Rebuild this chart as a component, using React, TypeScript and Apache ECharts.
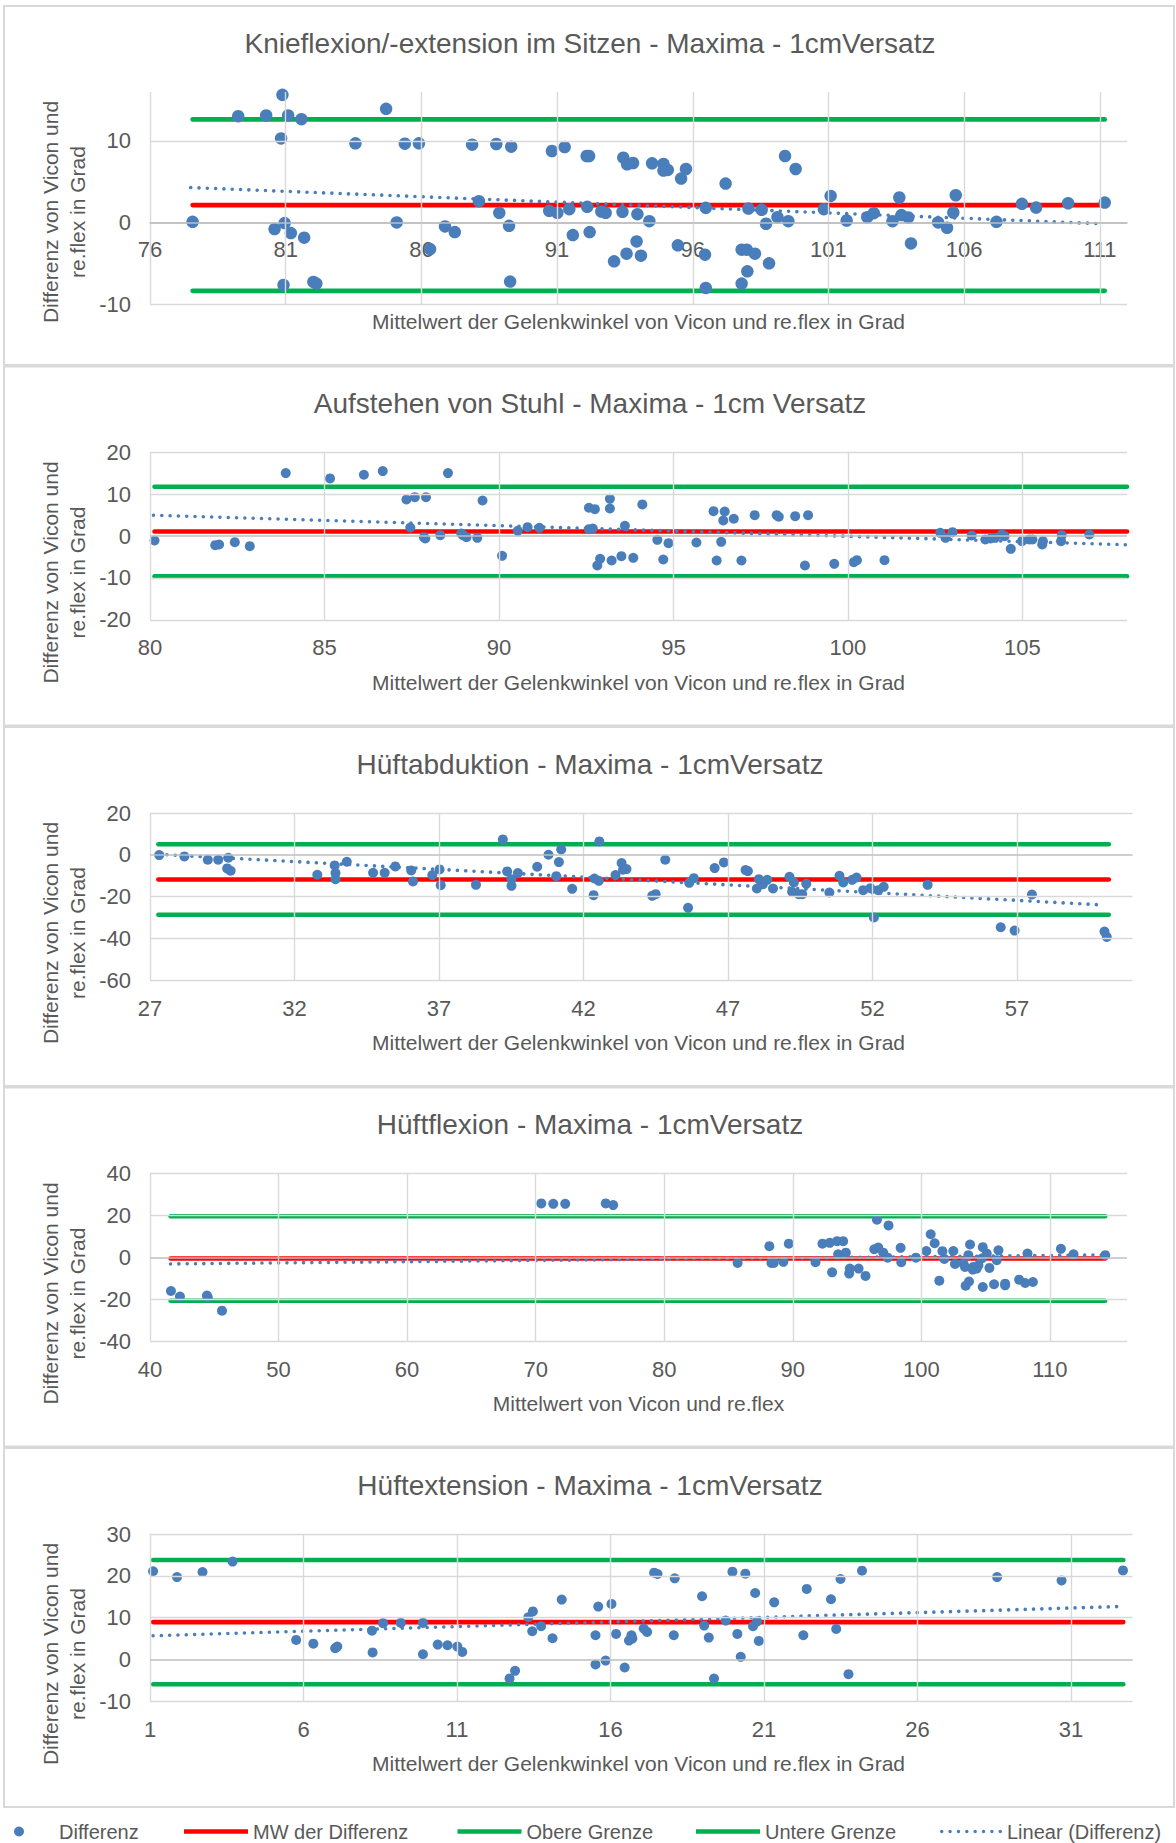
import React, { useEffect, useRef } from "react";
import * as echarts from "echarts";

// ---------- Texts ----------
const panelTitles = [
  "Knieflexion/-extension im Sitzen - Maxima - 1cmVersatz",
  "Aufstehen von Stuhl - Maxima - 1cm Versatz",
  "Hüftabduktion - Maxima - 1cmVersatz",
  "Hüftflexion - Maxima - 1cmVersatz",
  "Hüftextension - Maxima - 1cmVersatz",
];
const xAxisTitles = [
  "Mittelwert der Gelenkwinkel von Vicon und re.flex in Grad",
  "Mittelwert der Gelenkwinkel von Vicon und re.flex in Grad",
  "Mittelwert der Gelenkwinkel von Vicon und re.flex in Grad",
  "Mittelwert von Vicon und re.flex",
  "Mittelwert der Gelenkwinkel von Vicon und re.flex in Grad",
];
const yAxisTitle = "Differenz von Vicon und\nre.flex in Grad";
const seriesNames = ["Differenz", "MW der Differenz", "Obere Grenze", "Untere Grenze", "Linear (Differenz)"];

// ---------- Knieflexion/-extension im Sitzen ----------
const kniePoints: number[][] = [
  [77.57, 0.08], [79.25, 13.04], [80.28, 13.12], [80.88, 15.65], [81.09, 13.12], [81.58, 12.67],
  [80.83, 10.31], [83.57, 9.7], [84.7, 13.94], [85.39, 9.66], [85.91, 9.7], [87.87, 9.54],
  [88.76, 9.62], [89.31, 9.29], [90.81, 8.76], [91.28, 9.25], [92.09, 8.15], [92.18, 8.15],
  [93.44, 7.95], [93.58, 7.13], [93.8, 7.29], [94.5, 7.25], [94.92, 7.17], [94.92, 6.36],
  [95.08, 6.44], [95.57, 5.38], [95.75, 6.56], [97.21, 4.77], [99.4, 8.15], [99.79, 6.56],
  [101.08, 3.26], [103.61, 3.06], [105.69, 3.34],
  [88.12, 2.61], [88.87, 1.18], [90.71, 1.43], [91.01, 1.18], [91.45, 1.63], [92.11, 1.92],
  [92.63, 1.34], [92.79, 1.18], [93.41, 1.3], [93.96, 1.02], [94.4, 0.16], [96.48, 1.79],
  [98.05, 1.71], [98.54, 1.55], [98.7, -0.16], [99.12, 0.65], [99.52, 0.16], [100.83, 1.63],
  [101.67, 0.24], [102.43, 0.65], [102.67, 1.14], [103.36, 0.16], [103.69, 0.9], [103.94, 0.61],
  [105.04, 0.0], [105.37, -0.65], [105.6, 1.22], [107.19, 0.08], [108.13, 2.28], [108.65, 1.83],
  [109.83, 2.36], [111.18, 2.44],
  [85.09, 0.0], [80.59, -0.81], [80.96, -0.08], [81.19, -1.3], [81.68, -1.87], [86.87, -0.49],
  [87.23, -1.18], [89.23, -0.41], [86.32, -3.26], [91.58, -1.55], [92.2, -1.18], [93.1, -4.77],
  [93.56, -3.83], [93.93, -2.32], [94.09, -4.07], [95.45, -2.81], [96.45, -3.95], [97.8, -3.34],
  [97.99, -3.34], [98.29, -3.83], [98.81, -5.01], [98.01, -5.99], [97.8, -7.5], [96.48, -8.03],
  [104.04, -2.57], [80.92, -7.66], [82.02, -7.29], [82.13, -7.5], [89.27, -7.25],
];
const knieLimits = [2.13, 12.64, -8.39]; // mean, upper, lower
const knieSpan = [77.57, 111.18];
const knieTrend = [[77.5, 4.28], [111.1, -0.16]];
const knieXTicks = [76, 81, 86, 91, 96, 101, 106, 111];
const knieYTicks = [-10, 0, 10];

// ---------- Aufstehen von Stuhl ----------
const stuhlPoints: number[][] = [
  [80.13, -1.04], [81.87, -2.15], [81.98, -1.99], [82.43, -1.44], [82.86, -2.39], [83.89, 15.07],
  [85.16, 13.8], [86.13, 14.67], [86.67, 15.55], [88.54, 15.07], [87.35, 8.77], [87.59, 9.33],
  [87.91, 9.33], [89.53, 8.53], [87.46, 2.07], [87.85, -0.24], [87.89, -0.56], [88.32, 0.24],
  [88.92, 0.64], [88.97, 0.24], [89.07, -0.24], [89.38, -0.4], [90.09, -4.7], [90.54, 1.28],
  [90.82, 2.15], [91.16, 1.99], [92.58, 6.78], [92.75, 6.46], [93.18, 8.93], [93.18, 6.62],
  [92.58, 1.67], [92.69, 1.83], [93.61, 2.47], [94.11, 7.58], [92.82, -7.02], [92.9, -5.42],
  [93.23, -5.82], [93.51, -4.78], [93.85, -5.18], [94.54, -0.88], [94.86, -1.67], [94.71, -5.58],
  [95.66, -1.52], [96.15, 5.98], [96.47, 5.9], [96.43, 3.75], [96.73, 4.15], [96.37, -1.36],
  [96.24, -5.82], [96.95, -5.82], [97.33, 5.02], [97.96, 5.02], [98.02, 4.63], [98.49, 4.78],
  [98.86, 5.02], [98.77, -7.02], [99.61, -6.62], [100.17, -6.22], [100.26, -5.74], [101.05, -5.74],
  [102.65, 0.8], [102.8, -0.4], [103.0, 0.96], [103.55, 0.16], [103.94, -0.8], [104.09, -0.56],
  [104.22, -0.4], [104.41, 0.4], [104.49, 0.0], [104.67, -3.03], [104.99, -1.2], [105.2, -0.8],
  [105.29, -0.8], [105.59, -1.2], [105.57, -2.0], [106.11, -1.2], [106.13, 0.24], [106.92, 0.4],
];
const stuhlLimits = [1.12, 11.82, -9.58];
const stuhlSpan = [80.13, 108];
const stuhlTrend = [[80.1, 5.0], [108, -2.06]];
const stuhlXTicks = [80, 85, 90, 95, 100, 105];
const stuhlYTicks = [-20, -10, 0, 10, 20];

// ---------- Hüftabduktion ----------
const abduktionPoints: number[][] = [
  [27.32, -0.16], [28.19, -0.8], [29.0, -2.4], [29.36, -2.4], [29.71, -1.44], [29.67, -6.56],
  [29.79, -7.68], [32.79, -9.6], [33.39, -5.12], [33.42, -8.8], [33.42, -11.68], [33.81, -3.36],
  [34.72, -8.64], [35.12, -8.64], [35.49, -5.6], [36.04, -7.52], [36.1, -12.8], [36.77, -9.76],
  [37.02, -7.04], [37.06, -14.56], [38.28, -14.4], [39.21, 7.36], [39.36, -8.0], [39.51, -11.68],
  [39.51, -14.88], [39.73, -8.8], [40.4, -5.76], [40.79, 0.0], [41.06, -10.24], [41.15, -3.52],
  [41.23, 2.56], [41.61, -16.32], [42.35, -19.36], [42.38, -11.36], [42.55, 6.4], [42.53, -12.48],
  [43.11, -9.76], [43.32, -4.0], [43.37, -7.2], [43.49, -6.88], [44.38, -19.68], [44.5, -18.88],
  [44.83, -2.4], [45.62, -25.44], [45.66, -13.44], [45.82, -11.2], [46.54, -6.4], [46.86, -3.68],
  [47.61, -7.36], [47.69, -7.84], [48.0, -16.16], [48.07, -11.68], [48.21, -14.08], [48.36, -12.0],
  [48.56, -16.16], [49.13, -10.56], [49.28, -13.28], [49.22, -17.76], [49.45, -18.88], [49.57, -18.88],
  [49.71, -13.92], [50.51, -18.08], [50.86, -10.08], [50.99, -13.28], [51.3, -12.0], [51.45, -10.88],
  [51.68, -16.96], [51.93, -16.0], [52.05, -30.08], [52.2, -16.96], [52.39, -15.36], [53.91, -14.4],
  [56.44, -34.72], [56.92, -36.32], [57.52, -19.04], [60.03, -36.8], [60.11, -39.36],
];
const abduktionLimits = [-11.84, 5.06, -28.74];
const abduktionSpan = [27.29, 60.18];
const abduktionTrend = [[27.3, 0.2], [59.9, -24.0]];
const abduktionXTicks = [27, 32, 37, 42, 47, 52, 57];
const abduktionYTicks = [-60, -40, -20, 0, 20];

// ---------- Hüftflexion ----------
const flexionPoints: number[][] = [
  [41.63, -16.1], [42.33, -18.8], [44.43, -18.3], [44.49, -19.1], [45.6, -25.5], [70.44, 25.7],
  [71.37, 25.5], [72.3, 25.5], [75.45, 25.7], [76.03, 24.9],
  [85.71, -2.7], [88.18, 5.3], [88.34, -2.7], [88.52, -2.7], [89.27, -2.2], [89.69, 6.5],
  [91.77, -2.4], [92.31, 6.5], [92.88, 6.9], [93.45, 7.7], [93.92, 7.7], [93.53, 1.4],
  [94.13, 2.2], [93.06, -7.2], [94.39, -7.8], [94.44, -5.4], [95.12, -5.4], [95.66, -8.9],
  [96.55, 17.9], [97.45, 15.2], [96.34, 3.8], [96.65, 4.6], [97.04, 2.2], [97.38, -0.2],
  [98.39, 4.5], [98.44, -2.4], [99.58, -0.2], [100.39, 3.0], [100.73, 11.0], [101.04, 6.7],
  [101.4, -11.2], [101.64, 2.9], [101.79, -0.8], [102.49, 3.0], [102.62, -3.2], [103.27, -3.0],
  [103.4, -4.6], [103.45, -13.6], [103.71, -11.6], [103.79, 6.1], [103.66, 1.0], [104.0, -5.9],
  [104.05, -4.6], [104.31, -5.4], [104.44, -3.8], [104.7, -0.6], [104.78, 4.8], [105.09, 1.8],
  [104.78, -14.2], [105.3, -5.1], [105.66, -12.9], [105.87, -1.4], [106.0, 3.3], [106.52, -12.6],
  [106.52, -13.4], [107.61, -10.7], [108.08, -12.3], [108.68, -11.8], [108.26, 1.8], [110.86, 4.0],
  [111.84, 1.4], [114.31, 1.0],
];
const flexionLimits = [-0.6, 19.6, -20.8];
const flexionSpan = [41.6, 114.3];
const flexionTrend = [[41.6, -3.2], [114.3, 1.1]];
const flexionXTicks = [40, 50, 60, 70, 80, 90, 100, 110];
const flexionYTicks = [-40, -20, 0, 20, 40];

// ---------- Hüftextension ----------
const extensionPoints: number[][] = [
  [1.1, 21.1], [1.88, 19.7], [2.71, 20.9], [3.69, 23.4], [5.76, 4.7], [6.32, 3.8],
  [7.03, 2.7], [7.1, 3.1], [8.23, 6.9], [8.25, 1.7], [8.59, 8.7],
  [9.17, 8.75], [9.89, 8.75], [9.89, 1.27], [10.37, 3.58], [10.69, 3.42], [11.01, 3.1],
  [11.17, 1.83], [12.71, -4.53], [12.89, -2.7], [13.32, 10.1], [13.47, 11.5], [13.45, 6.76],
  [13.74, 7.96], [14.11, 5.09], [14.41, 14.32], [15.51, 5.81], [15.51, -1.19], [15.6, 12.65],
  [15.84, -0.24], [16.03, 13.29], [16.18, 6.13], [16.46, -1.91], [16.6, 4.53], [16.68, 5.81],
  [16.71, 5.01], [17.08, 7.4], [17.19, 6.6], [17.42, 20.76], [17.53, 20.45], [18.06, 5.81],
  [18.09, 19.41], [18.98, 15.12], [19.05, 8.11], [19.2, 5.25], [19.37, -4.53], [19.75, 9.31],
  [19.97, 21.0], [20.13, 6.13], [20.24, 0.64], [20.39, 20.52], [20.64, 7.96], [20.71, 15.91],
  [20.77, 9.07], [20.83, 4.45], [21.33, 13.68], [22.28, 5.81], [22.39, 16.87], [23.18, 14.4],
  [23.35, 7.32], [23.49, 19.25], [23.75, -3.5], [24.19, 21.24], [28.59, 19.7], [30.69, 18.9],
  [32.69, 21.3],
];
const extensionLimits = [8.95, 23.8, -5.9];
const extensionSpan = [1.1, 32.7];
const extensionTrend = [[1.1, 5.67], [32.7, 12.7]];
const extensionXTicks = [1, 6, 11, 16, 21, 26, 31];
const extensionYTicks = [-10, 0, 10, 20, 30];

// ---------- Styling ----------
const FONT = "'Liberation Sans', Arial, Helvetica, sans-serif";
const TEXT_COLOR = "#595959";
const DOT_BLUE = "#4a7ebb";
const RED = "#ff0000";
const GREEN = "#00b050";
const GRID_GRAY = "#d9d9d9";
const AXIS_GRAY = "#bfbfbf";

const PANEL_TOP = 6;
const PANEL_STEP = 360.5;
const GRID_LEFT = 150;
const LEGEND_TOP = 1821.5;

// legend icons: a thick bar and a row of round dots
const LINE_ICON = "path://M0,0H64V4.5H0Z";
const DOT_ICON =
  "path://" +
  Array.from({ length: 8 }, (_, k) => {
    const x = k * 8.2;
    return `M${x},1.7a1.7,1.7 0 1,0 3.4,0a1.7,1.7 0 1,0 -3.4,0Z`;
  }).join("");

type Panel = {
  points: number[][];
  limits: number[];
  span: number[];
  trend: number[][];
  xTicks: number[];
  xMax: number;
  yTicks: number[];
  yMax: number;
  labelsAtZero: boolean;
  dot: number;
  right: number;
  height: number;
};

const panels: Panel[] = [
  { points: kniePoints, limits: knieLimits, span: knieSpan, trend: knieTrend, xTicks: knieXTicks, xMax: 112, yTicks: knieYTicks, yMax: 16, labelsAtZero: true, dot: 12.5, right: 1127, height: 212 },
  { points: stuhlPoints, limits: stuhlLimits, span: stuhlSpan, trend: stuhlTrend, xTicks: stuhlXTicks, xMax: 108, yTicks: stuhlYTicks, yMax: 20, labelsAtZero: false, dot: 10, right: 1127, height: 167.3 },
  { points: abduktionPoints, limits: abduktionLimits, span: abduktionSpan, trend: abduktionTrend, xTicks: abduktionXTicks, xMax: 61, yTicks: abduktionYTicks, yMax: 20, labelsAtZero: false, dot: 10, right: 1132.5, height: 167 },
  { points: flexionPoints, limits: flexionLimits, span: flexionSpan, trend: flexionTrend, xTicks: flexionXTicks, xMax: 116, yTicks: flexionYTicks, yMax: 40, labelsAtZero: false, dot: 10, right: 1127, height: 167.5 },
  { points: extensionPoints, limits: extensionLimits, span: extensionSpan, trend: extensionTrend, xTicks: extensionXTicks, xMax: 33, yTicks: extensionYTicks, yMax: 30, labelsAtZero: false, dot: 10, right: 1132.5, height: 167.4 },
];

// one legend block per entry, each placed on its own
const legendEntries = [
  { name: seriesNames[0], icon: "circle", left: 14, itemWidth: 10, textPad: 30 },
  { name: seriesNames[1], icon: LINE_ICON, left: 184, itemWidth: 64, textPad: 0 },
  { name: seriesNames[2], icon: LINE_ICON, left: 457.5, itemWidth: 64, textPad: 0 },
  { name: seriesNames[3], icon: LINE_ICON, left: 696, itemWidth: 64, textPad: 0 },
  { name: seriesNames[4], icon: DOT_ICON, left: 940, itemWidth: 62, textPad: 0 },
];

function buildOption() {
  const grids: any[] = [];
  const xAxes: any[] = [];
  const yAxes: any[] = [];
  const series: any[] = [];
  const titles: any[] = [];
  const graphics: any[] = [];

  panels.forEach((p, i) => {
    const top = PANEL_TOP + i * PANEL_STEP;
    const yMin = p.yTicks[0];
    // distance from the grid bottom up to the value 0 on the y scale
    const zeroLift = (p.height * (0 - yMin)) / (p.yMax - yMin);

    graphics.push({
      type: "rect",
      z: -1,
      silent: true,
      shape: { x: 4, y: top, width: 1170, height: 359 },
      style: { fill: "#ffffff", stroke: GRID_GRAY, lineWidth: 2 },
    });
    graphics.push({
      type: "text",
      silent: true,
      x: 63.5,
      y: top + 206,
      rotation: Math.PI / 2,
      style: {
        text: yAxisTitle,
        fill: TEXT_COLOR,
        fontSize: 21,
        fontFamily: FONT,
        lineHeight: 27,
        align: "center",
        verticalAlign: "middle",
        textAlign: "center",
        textVerticalAlign: "middle",
      },
    });
    graphics.push({
      type: "text",
      silent: true,
      x: 638.5,
      y: top + 315.7,
      style: {
        text: xAxisTitles[i],
        fill: TEXT_COLOR,
        fontSize: 21,
        fontFamily: FONT,
        align: "center",
        verticalAlign: "middle",
        textAlign: "center",
        textVerticalAlign: "middle",
      },
    });

    titles.push({
      text: panelTitles[i],
      left: 590,
      textAlign: "center",
      top: top + 23,
      padding: 0,
      textStyle: { fontSize: 28, fontWeight: "normal", color: TEXT_COLOR, fontFamily: FONT },
    });

    grids.push({
      left: GRID_LEFT,
      top: top + 86,
      width: p.right - GRID_LEFT,
      height: p.height,
      containLabel: false,
    });

    xAxes.push({
      type: "value",
      gridIndex: i,
      position: "bottom",
      offset: p.labelsAtZero ? -zeroLift : 0,
      min: p.xTicks[0],
      max: p.xMax,
      interval: p.xTicks[1] - p.xTicks[0],
      axisLine: { show: p.labelsAtZero, onZero: false, lineStyle: { color: AXIS_GRAY, width: 1.6 } },
      axisTick: { show: false },
      splitLine: { show: false },
      axisLabel: {
        fontSize: 22,
        color: TEXT_COLOR,
        fontFamily: FONT,
        margin: p.labelsAtZero ? 16 : 17,
        showMaxLabel: false,
        showMinLabel: true,
      },
    });

    yAxes.push({
      type: "value",
      gridIndex: i,
      min: yMin,
      max: p.yMax,
      interval: p.yTicks[1] - p.yTicks[0],
      axisLine: { show: false, onZero: false },
      axisTick: { show: false },
      splitLine: { show: false },
      axisLabel: {
        fontSize: 22,
        color: TEXT_COLOR,
        fontFamily: FONT,
        margin: 19,
        showMaxLabel: p.yTicks.includes(p.yMax),
        showMinLabel: true,
      },
    });

    // gridlines at the tick values; the zero line is a little darker
    series.push({
      type: "line",
      name: "Gitter",
      xAxisIndex: i,
      yAxisIndex: i,
      data: [],
      silent: true,
      z: 1,
      markLine: {
        silent: true,
        symbol: ["none", "none"],
        label: { show: false },
        emphasis: { disabled: true },
        lineStyle: { color: GRID_GRAY, width: 1.4, type: "solid" },
        data: [
          ...p.xTicks.map((v) => ({ xAxis: v })),
          ...p.yTicks.map((v) =>
            v === 0
              ? { yAxis: v, lineStyle: { color: AXIS_GRAY, width: 1.7, type: "solid" } }
              : { yAxis: v }
          ),
        ],
      },
    });

    const [mean, upper, lower] = p.limits;
    const limitLine = (name: string, value: number, color: string, z: number) => ({
      type: "line",
      name,
      xAxisIndex: i,
      yAxisIndex: i,
      data: [
        [p.span[0], value],
        [p.span[1], value],
      ],
      symbol: "none",
      showSymbol: false,
      silent: true,
      lineStyle: { color, width: 4.6, cap: "round" },
      itemStyle: { color },
      z,
    });
    series.push(limitLine(seriesNames[1], mean, RED, 2));
    series.push(limitLine(seriesNames[2], upper, GREEN, 2));
    series.push(limitLine(seriesNames[3], lower, GREEN, 2));

    series.push({
      type: "line",
      name: seriesNames[4],
      xAxisIndex: i,
      yAxisIndex: i,
      data: p.trend,
      symbol: "none",
      showSymbol: false,
      silent: true,
      lineStyle: { color: DOT_BLUE, width: 3.6, type: [0.01, 8.3], cap: "round" },
      itemStyle: { color: DOT_BLUE },
      z: 3,
    });

    series.push({
      type: "scatter",
      name: seriesNames[0],
      xAxisIndex: i,
      yAxisIndex: i,
      data: p.points,
      symbol: "circle",
      symbolSize: p.dot,
      silent: true,
      itemStyle: { color: DOT_BLUE, opacity: 1 },
      z: 4,
    });
  });

  const legends = legendEntries.map((e) => ({
    left: e.left,
    top: LEGEND_TOP,
    padding: 0,
    itemWidth: e.itemWidth,
    itemHeight: 10,
    selectedMode: false,
    textStyle: {
      fontSize: 20,
      color: TEXT_COLOR,
      fontFamily: FONT,
      padding: [0, 0, 0, e.textPad],
    },
    data: [{ name: e.name, icon: e.icon, itemStyle: { borderWidth: 0 } }],
  }));

  return {
    animation: false,
    backgroundColor: "#ffffff",
    textStyle: { fontFamily: FONT },
    title: titles,
    grid: grids,
    xAxis: xAxes,
    yAxis: yAxes,
    series,
    graphic: { elements: graphics },
    legend: legends,
  };
}

export default function App() {
  const ref = useRef<HTMLDivElement>(null);

  useEffect(() => {
    if (!ref.current) return;
    const chart = echarts.init(ref.current, undefined, { renderer: "svg" });
    chart.setOption(buildOption() as any);
    return () => chart.dispose();
  }, []);

  return (
    <div
      ref={ref}
      style={{ position: "absolute", left: 0, top: 0, width: 1176, height: 1843, background: "#ffffff" }}
    />
  );
}
